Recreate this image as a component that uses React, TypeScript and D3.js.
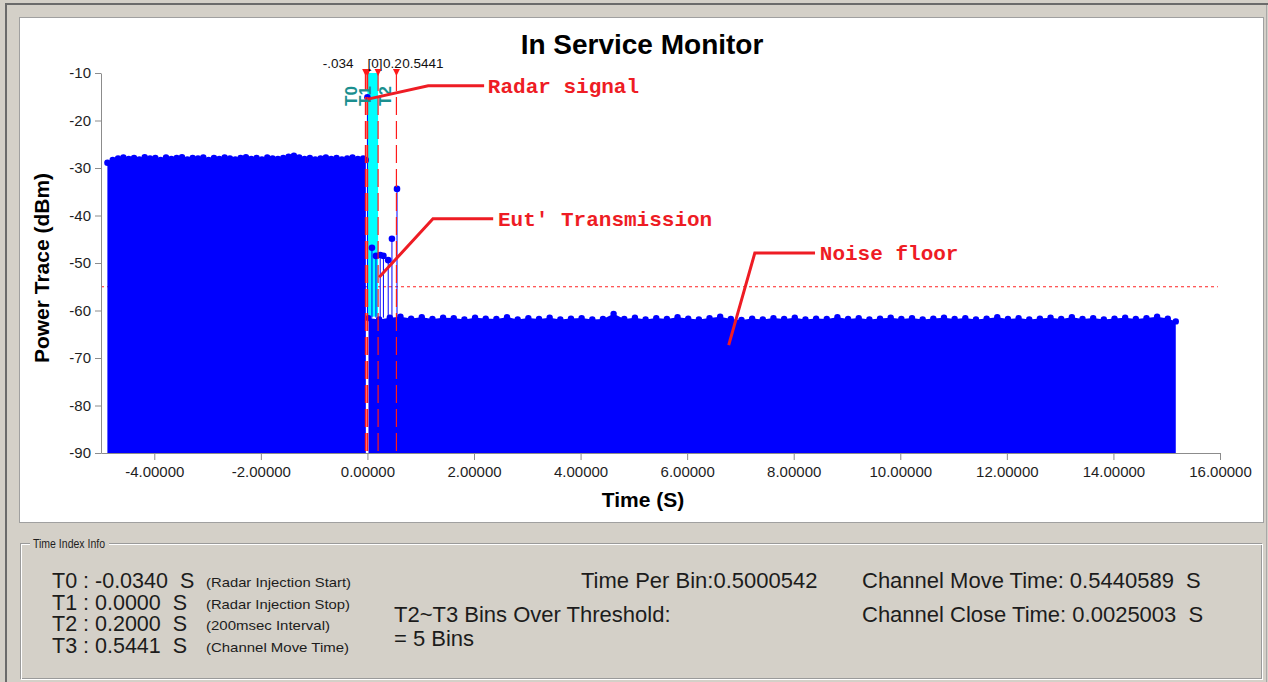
import React, { useEffect, useRef } from "react";
import * as d3 from "d3";

const WIDTH = 1268;
const HEIGHT = 682;
const FONT = "'Liberation Sans', Arial, sans-serif";
const MONO = "'Courier New', 'Liberation Mono', monospace";

// time markers
const markerNames = ["T0", "T1", "T2", "T3"];
const markerTimes = [-0.034, 0, 0.2, 0.5441];
const markerLabels = ["-.034", "[0]", "0.2", "0.5441"];

const xTicks = [-4, -2, 0, 2, 4, 6, 8, 10, 12, 14, 16];
const yTicks = [-10, -20, -30, -40, -50, -60, -70, -80, -90];
const threshold = -55;

// power trace before radar injection [time s, dBm]
const preTrace: [number, number][] = [
  [-4.88, -28.9], [-4.78, -28.3], [-4.68, -28.0], [-4.58, -27.8], [-4.48, -28.1],
  [-4.38, -27.9], [-4.28, -28.2], [-4.18, -27.7], [-4.08, -28.0], [-3.98, -27.9],
  [-3.88, -28.3], [-3.78, -27.8], [-3.68, -28.1], [-3.58, -27.9], [-3.48, -27.7],
  [-3.38, -28.2], [-3.28, -27.9], [-3.18, -28.0], [-3.08, -27.8], [-2.98, -28.3],
  [-2.88, -27.9], [-2.78, -28.1], [-2.68, -27.8], [-2.58, -28.0], [-2.48, -28.2],
  [-2.38, -27.9], [-2.28, -27.7], [-2.18, -28.1], [-2.08, -27.9], [-1.98, -28.2],
  [-1.88, -27.8], [-1.78, -28.0], [-1.68, -28.1], [-1.58, -27.9], [-1.48, -27.6],
  [-1.38, -27.4], [-1.28, -27.8], [-1.18, -28.1], [-1.08, -27.9], [-0.98, -28.2],
  [-0.88, -28.0], [-0.78, -27.8], [-0.68, -28.1], [-0.58, -27.9], [-0.48, -28.2],
  [-0.38, -28.0], [-0.28, -27.8], [-0.18, -28.1], [-0.08, -28.0], [-0.03, -28.3],
];

// power trace after the channel move (noise floor)
const postTrace: [number, number][] = [
  [0.02, -61.6], [0.22, -61.9], [0.42, -61.5], [0.62, -61.3], [0.82, -61.7],
  [1.02, -61.4], [1.22, -61.8], [1.42, -61.5], [1.62, -61.6], [1.82, -61.9],
  [2.02, -61.5], [2.22, -61.7], [2.42, -61.8], [2.62, -61.4], [2.82, -61.9],
  [3.02, -61.6], [3.22, -61.8], [3.42, -61.5], [3.62, -61.9], [3.82, -61.7],
  [4.02, -61.6], [4.22, -61.9], [4.42, -61.8], [4.62, -60.7], [4.82, -61.8],
  [5.02, -61.5], [5.22, -61.9], [5.42, -61.6], [5.62, -61.8], [5.82, -61.4],
  [6.02, -61.7], [6.22, -61.9], [6.42, -61.6], [6.62, -61.3], [6.82, -61.8],
  [7.02, -62.0], [7.22, -61.7], [7.42, -61.9], [7.62, -61.6], [7.82, -61.8],
  [8.02, -61.5], [8.22, -61.9], [8.42, -61.7], [8.62, -61.8], [8.82, -61.4],
  [9.02, -61.8], [9.22, -61.6], [9.42, -61.9], [9.62, -61.7], [9.82, -61.5],
  [10.02, -61.8], [10.22, -61.6], [10.42, -61.9], [10.62, -61.7], [10.82, -61.5],
  [11.02, -61.8], [11.22, -61.6], [11.42, -61.9], [11.62, -61.7], [11.82, -61.4],
  [12.02, -61.8], [12.22, -61.6], [12.42, -61.9], [12.62, -61.7], [12.82, -61.5],
  [13.02, -61.8], [13.22, -61.4], [13.42, -61.8], [13.62, -61.6], [13.82, -61.9],
  [14.02, -61.7], [14.22, -61.5], [14.42, -61.8], [14.62, -61.6], [14.82, -61.3],
  [15.02, -61.7], [15.17, -62.3],
];

// radar pulse and EUT transmission bins
const radarPeak: [number, number][] = [[0.0, -15.1]];
const eutBins: [number, number][] = [
  [0.085, -46.8], [0.16, -48.5], [0.24, -48.3], [0.3, -48.5],
  [0.39, -49.4], [0.46, -44.9], [0.555, -34.4],
];

const annotations = [
  { text: "Radar signal", pts: [[0.01, -15.5], [1.14, -12.7], [2.19, -12.7]], at: [2.26, -12.7] },
  { text: "Eut' Transmission", pts: [[0.22, -53.0], [1.23, -40.7], [2.36, -40.7]], at: [2.45, -40.7] },
  { text: "Noise floor", pts: [[6.78, -67.3], [7.27, -47.9], [8.4, -47.9]], at: [8.49, -47.9] },
];

const infoTimes = ["T0 : -0.0340  S", "T1 : 0.0000  S", "T2 : 0.2000  S", "T3 : 0.5441  S"];
const infoNotes = ["(Radar Injection Start)", "(Radar Injection Stop)", "(200msec Interval)", "(Channel Move Time)"];
const noteWidths = [145, 144, 124, 143];

export default function App() {
  const ref = useRef<SVGSVGElement | null>(null);

  useEffect(() => {
    const svg = d3.select(ref.current);
    svg.selectAll("*").remove();

    // window frame
    svg.append("rect").attr("width", WIDTH).attr("height", HEIGHT).attr("fill", "#d4d0c8");
    svg.append("line").attr("x1", 5).attr("x2", WIDTH).attr("y1", 4).attr("y2", 4)
      .attr("stroke", "#6b6b6b").attr("stroke-width", 2);
    svg.append("line").attr("x1", 6).attr("x2", 6).attr("y1", 3).attr("y2", HEIGHT)
      .attr("stroke", "#6b6b6b").attr("stroke-width", 2);
    svg.append("line").attr("x1", 1266.5).attr("x2", 1266.5).attr("y1", 5).attr("y2", HEIGHT)
      .attr("stroke", "#a8a8a8");
    svg.append("rect").attr("x", 19.5).attr("y", 17.5).attr("width", 1244).attr("height", 505)
      .attr("fill", "#ffffff").attr("stroke", "#a0a0a0");

    const x = d3.scaleLinear().domain([-5, 16]).range([101, 1220]);
    const y = d3.scaleLinear().domain([-90, -10]).range([453, 73]);

    const plot = svg.append("g");

    // threshold
    plot.append("line")
      .attr("x1", x(-5)).attr("x2", x(15.96))
      .attr("y1", y(threshold)).attr("y2", y(threshold))
      .attr("stroke", "#ff2020").attr("stroke-dasharray", "3,3");

    // cyan radar band T1..T2
    plot.append("rect")
      .attr("x", x(markerTimes[1])).attr("y", y(-10))
      .attr("width", x(markerTimes[2]) - x(markerTimes[1]))
      .attr("height", y(-61.3) - y(-10))
      .attr("fill", "#00ffff");

    const area = d3.area<[number, number]>()
      .x(d => x(d[0])).y0(y(-90)).y1(d => y(d[1]));

    [preTrace, postTrace].forEach(trace => {
      plot.append("path").attr("d", area(trace)).attr("fill", "#0000ff");
      plot.selectAll(null).data(trace).enter().append("circle")
        .attr("cx", d => x(d[0])).attr("cy", d => y(d[1])).attr("r", 3.2)
        .attr("fill", "#0000ff");
    });

    // stems
    const stems = radarPeak.concat(eutBins);
    plot.selectAll(null).data(stems).enter().append("line")
      .attr("x1", d => x(d[0])).attr("x2", d => x(d[0]))
      .attr("y1", d => y(d[1])).attr("y2", y(-61.5))
      .attr("stroke", "#0000ff").attr("stroke-width", 1);
    plot.selectAll(null).data(stems).enter().append("circle")
      .attr("cx", d => x(d[0])).attr("cy", d => y(d[1])).attr("r", 3.3)
      .attr("fill", "#0000ff");

    // marker lines
    let labelEnd = -Infinity;
    markerTimes.forEach((t, i) => {
      const mx = x(t);
      plot.append("line").attr("x1", mx).attr("x2", mx).attr("y1", y(-10)).attr("y2", y(-90))
        .attr("stroke", "#ff1a1a").attr("stroke-width", i < 2 ? 1.6 : 1.2)
        .attr("stroke-dasharray", "18,6");
      plot.append("path")
        .attr("d", `M${mx - 3.5},69L${mx + 3.5},69L${mx},76Z`)
        .attr("fill", "#ff1a1a");
      const lbl = plot.append("text")
        .attr("y", 68)
        .attr("font-family", FONT).attr("font-size", 13.5).attr("fill", "#111")
        .text(markerLabels[i]);
      if (i === 0) {
        lbl.attr("x", mx - 12).attr("text-anchor", "end");
      } else {
        const lx = Math.max(mx, labelEnd + 0.5);
        lbl.attr("x", lx);
        const node = lbl.node() as SVGTextElement | null;
        labelEnd = lx + (node ? node.getComputedTextLength() : 0);
      }
    });

    // rotated marker names
    const nameOffsets = [-9, 3.5, 13];
    markerNames.slice(0, 3).forEach((n, i) => {
      const bx = x(markerTimes[i]) + nameOffsets[i];
      plot.append("text")
        .attr("transform", `translate(${bx},106) rotate(-90)`)
        .attr("font-family", FONT).attr("font-size", 17).attr("font-weight", "bold")
        .attr("fill", "#1b8f8f")
        .text(n);
    });

    // axes
    const yAxis = plot.append("g").attr("transform", `translate(${x(-5)},0)`)
      .call(d3.axisLeft(y).tickValues(yTicks).tickSize(6).tickSizeOuter(0).tickPadding(4)
        .tickFormat(d => String(d)));
    const xAxis = plot.append("g").attr("transform", `translate(0,${y(-90)})`)
      .call(d3.axisBottom(x).tickValues(xTicks).tickSize(7).tickSizeOuter(0).tickPadding(6)
        .tickFormat(d => (+d).toFixed(5)));
    [xAxis, yAxis].forEach(a => {
      a.selectAll("path,line").attr("stroke", "#8c8c8c");
      a.selectAll("text").attr("font-family", FONT).attr("font-size", 15).attr("fill", "#1e1e1e");
    });

    // annotations
    const line = d3.line<number[]>().x(d => x(d[0])).y(d => y(d[1]));
    annotations.forEach(a => {
      plot.append("path").attr("d", line(a.pts)).attr("fill", "none")
        .attr("stroke", "#ee1c24").attr("stroke-width", 3);
      plot.append("text")
        .attr("x", x(a.at[0])).attr("y", y(a.at[1]) + 7)
        .attr("font-family", MONO).attr("font-size", 21).attr("font-weight", "bold")
        .attr("fill", "#ee1c24").style("white-space", "pre")
        .text(a.text);
    });

    // titles
    svg.append("text").attr("x", 642).attr("y", 54).attr("text-anchor", "middle")
      .attr("font-family", FONT).attr("font-size", 28).attr("font-weight", "bold")
      .text("In Service Monitor");
    svg.append("text").attr("x", 643).attr("y", 507).attr("text-anchor", "middle")
      .attr("font-family", FONT).attr("font-size", 21).attr("font-weight", "bold")
      .text("Time (S)");
    svg.append("text").attr("transform", "translate(49,268) rotate(-90)")
      .attr("text-anchor", "middle")
      .attr("font-family", FONT).attr("font-size", 21).attr("font-weight", "bold")
      .text("Power Trace (dBm)");

    // group box
    const box = svg.append("g");
    box.append("rect").attr("x", 20.5).attr("y", 543.5).attr("width", 1241).attr("height", 135)
      .attr("fill", "none").attr("stroke", "#9a9a9a");
    box.append("rect").attr("x", 21.5).attr("y", 544.5).attr("width", 1241).attr("height", 135)
      .attr("fill", "none").attr("stroke", "#ffffff");
    box.append("rect").attr("x", 30).attr("y", 536).attr("width", 79).attr("height", 14)
      .attr("fill", "#d4d0c8");
    box.append("text").attr("x", 33).attr("y", 548).attr("font-family", FONT)
      .attr("font-size", 12.5).attr("textLength", 72).attr("lengthAdjust", "spacingAndGlyphs")
      .attr("fill", "#1e1e1e").text("Time Index Info");

    const txt = (tx: number, ty: number, s: string, size = 22) =>
      box.append("text").attr("x", tx).attr("y", ty)
        .attr("font-family", FONT).attr("font-size", size).attr("fill", "#1c1c1c")
        .style("white-space", "pre").text(s);

    infoTimes.forEach((s, i) => {
      const by = 588 + i * 21.7;
      txt(52, by, s, 21.5);
      box.append("text").attr("x", 206).attr("y", by - 1)
        .attr("font-family", FONT).attr("font-size", 13.5)
        .attr("textLength", noteWidths[i]).attr("lengthAdjust", "spacingAndGlyphs")
        .attr("fill", "#1c1c1c").text(infoNotes[i]);
    });
    txt(581, 588, "Time Per Bin:0.5000542");
    txt(394, 622, "T2~T3 Bins Over Threshold:");
    txt(394, 646, "= 5 Bins");
    txt(862, 588, "Channel Move Time: 0.5440589  S");
    txt(862, 622, "Channel Close Time: 0.0025003  S");
  }, []);

  return (
    <div style={{ position: "absolute", left: 0, top: 0, width: WIDTH, height: HEIGHT }}>
      <svg ref={ref} width={WIDTH} height={HEIGHT} style={{ display: "block" }} />
    </div>
  );
}
